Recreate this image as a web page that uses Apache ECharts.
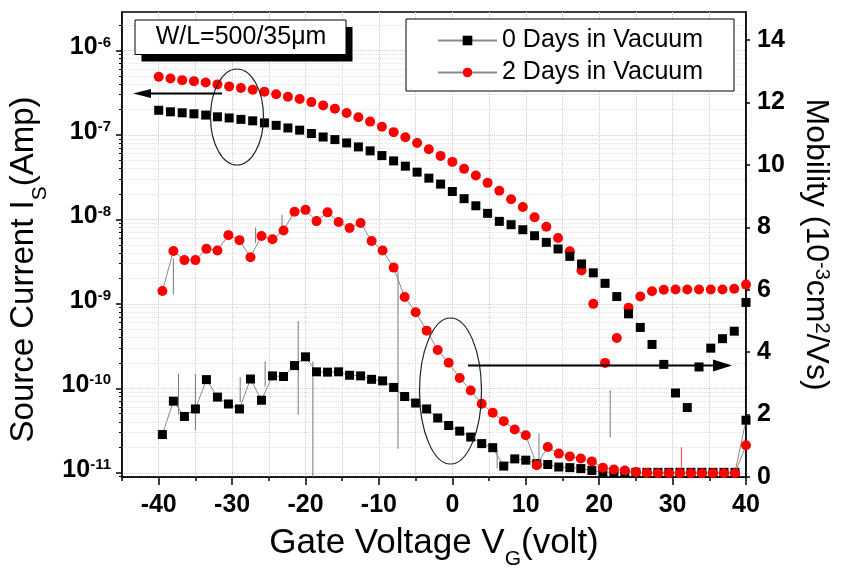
<!DOCTYPE html>
<html>
<head>
<meta charset="utf-8">
<script src="https://cdn.jsdelivr.net/npm/echarts@6/dist/echarts.min.js"></script>
<style>
html,body{margin:0;padding:0;background:#fff;}
#chart{width:844px;height:569px;}
</style>
</head>
<body>
<div id="chart"></div>
<script>
// ---- data ----
const gateV = [-40, -38.4, -36.8, -35.2, -33.6, -32, -30.4, -28.8, -27.2, -25.6, -24, -22.4, -20.8, -19.2, -17.6, -16, -14.4, -12.8, -11.2, -9.6, -8, -6.4, -4.8, -3.2, -1.6, 0, 1.6, 3.2, 4.8, 6.4, 8, 9.6, 11.2, 12.8, 14.4, 16, 17.6, 19.2, 20.8, 22.4, 24, 25.6, 27.2, 28.8, 30.4, 32, 33.6, 35.2, 36.8, 38.4, 40];
const current0Days = [1.96e-7, 1.88e-7, 1.83e-7, 1.78e-7, 1.72e-7, 1.64e-7, 1.59e-7, 1.53e-7, 1.47e-7, 1.39e-7, 1.30e-7, 1.21e-7, 1.14e-7, 1.04e-7, 9.46e-8, 8.81e-8, 8.05e-8, 7.22e-8, 6.48e-8, 5.70e-8, 4.93e-8, 4.27e-8, 3.63e-8, 3.08e-8, 2.62e-8, 2.14e-8, 1.76e-8, 1.45e-8, 1.18e-8, 9.48e-9, 8.66e-9, 7.55e-9, 6.41e-9, 5.35e-9, 4.47e-9, 3.65e-9, 2.97e-9, 2.33e-9, 1.75e-9, 1.22e-9, 7.62e-10, 5.26e-10, 3.31e-10, 1.92e-10, 8.81e-11, 5.92e-11, 1.79e-10, 2.99e-10, 3.87e-10, 4.75e-10, 1.04e-9];
const current2Days = [4.88e-7, 4.67e-7, 4.46e-7, 4.34e-7, 4.19e-7, 3.97e-7, 3.76e-7, 3.59e-7, 3.43e-7, 3.25e-7, 3.03e-7, 2.83e-7, 2.66e-7, 2.45e-7, 2.24e-7, 2.05e-7, 1.82e-7, 1.62e-7, 1.44e-7, 1.25e-7, 1.08e-7, 9.40e-8, 8.05e-8, 6.78e-8, 5.65e-8, 4.80e-8, 3.97e-8, 3.31e-8, 2.71e-8, 2.18e-8, 1.73e-8, 1.40e-8, 1.06e-8, 8.20e-9, 6.03e-9, 4.19e-9, 2.48e-9, 1.00e-9, 2.00e-10, 3.94e-10, 9.0e-10, 1.22e-9, 1.41e-9, 1.47e-9, 1.48e-9, 1.48e-9, 1.48e-9, 1.48e-9, 1.48e-9, 1.51e-9, 1.69e-9];

const gateVMob = [-39.5, -38, -36.5, -35, -33.5, -32, -30.5, -29, -27.5, -26, -24.5, -23, -21.5, -20, -18.5, -17, -15.5, -14, -12.5, -11, -9.5, -8, -6.5, -5, -3.5, -2, -0.5, 1, 2.5, 4, 5.5, 7, 8.5, 10, 11.5, 13, 14.5, 16, 17.5, 19, 20.5, 22, 23.5, 25, 26.5, 28, 29.5, 31, 32.5, 34, 35.5, 37, 38.5, 40];
const mobility0Days = [1.36, 2.43, 1.94, 2.18, 3.12, 2.56, 2.34, 2.18, 3.14, 2.46, 3.24, 3.22, 3.57, 3.85, 3.37, 3.36, 3.37, 3.26, 3.24, 3.13, 3.08, 2.87, 2.58, 2.37, 2.18, 1.89, 1.65, 1.47, 1.28, 1.07, 0.94, 0.35, 0.58, 0.54, 0.43, 0.40, 0.32, 0.30, 0.27, 0.21, 0.16, 0.15, 0.15, 0.15, 0.15, 0.15, 0.15, 0.15, 0.15, 0.15, 0.15, 0.15, 0.15, 1.82];
const mobility2Days = [5.96, 7.24, 6.95, 6.95, 7.31, 7.26, 7.75, 7.59, 7.04, 7.72, 7.62, 7.90, 8.50, 8.56, 8.20, 8.48, 8.17, 7.98, 8.14, 7.56, 7.26, 6.71, 5.77, 5.28, 4.69, 4.07, 3.66, 3.17, 2.77, 2.35, 2.06, 1.79, 1.52, 1.34, 0.38, 0.96, 0.75, 0.66, 0.59, 0.50, 0.30, 0.24, 0.21, 0.16, 0.13, 0.12, 0.12, 0.12, 0.12, 0.12, 0.12, 0.12, 0.12, 1.02];

// raw-data noise spikes visible in the mobility traces: [gate V, top, bottom]
const graySpikes = [[-38.0, 7.0, 5.85], [-37.3, 3.3, 2.0], [-35.0, 3.3, 1.5], [-28.9, 3.2, 2.4], [-26.8, 8.0, 7.5], [-25.5, 3.7, 2.9], [-23.2, 8.4, 8.0], [-21.0, 5.0, 2.0], [-19.0, 3.7, 0], [-7.4, 6.6, 0.9], [6.1, 0.86, 0.28], [11.8, 1.4, 0.45], [21.5, 2.78, 1.27]];
const redSpikes = [[31.2, 0.95, 0.3]];

// ticks
const xMajorTicks = [-40, -30, -20, -10, 0, 10, 20, 30, 40];
const currentDecades = [-11, -10, -9, -8, -7, -6];          // exponents of 10
const minorMultipliers = [2, 3, 4, 5, 6, 7, 8, 9];
const mobilityTicks = [0, 2, 4, 6, 8, 10, 12, 14];

const legendNames = ['0 Days in Vacuum', '2 Days in Vacuum'];

// ---- build ----
const FONT = '"Liberation Sans", Arial, sans-serif';
const logMin = -11.05, logMax = -5.544;
const minorExps = [];
[-12].concat(currentDecades).forEach(e => minorMultipliers.forEach(m => {
  const v = e + Math.log10(m);
  if (v > logMin && v < logMax) minorExps.push(v);
}));

const curPairs = (xs, ys) => xs.map((x, i) => [x, Math.log10(ys[i])]);
const pairs = (xs, ys) => xs.map((x, i) => [x, ys[i]]);

const spikeSeries = [];
graySpikes.forEach(s => spikeSeries.push({
  type: 'line', xAxisIndex: 0, yAxisIndex: 2, silent: true, symbol: 'none', z: 1,
  lineStyle: {color: '#777', width: 1}, data: [[s[0], s[1]], [s[0], s[2]]]
}));
redSpikes.forEach(s => spikeSeries.push({
  type: 'line', xAxisIndex: 0, yAxisIndex: 2, silent: true, symbol: 'none', z: 1,
  lineStyle: {color: '#ff4040', width: 1}, data: [[s[0], s[1]], [s[0], s[2]]]
}));

const chart = echarts.init(document.getElementById('chart'), null, {renderer: 'canvas'});
const option = {
  animation: false,
  backgroundColor: '#fff',
  textStyle: {fontFamily: FONT},
  grid: {left: 122, right: 98, top: 12, bottom: 92, containLabel: false, outerBoundsMode: 'none',
         show: true, borderColor: '#000', borderWidth: 1.5, backgroundColor: 'transparent'},
  legend: {
    data: legendNames,
    orient: 'vertical', left: 406, top: 19,
    padding: [9, 31, 6, 31], itemGap: 7,
    itemWidth: 59, itemHeight: 12,
    borderColor: '#000', borderWidth: 1, backgroundColor: '#fff',
    textStyle: {fontSize: 25, color: '#000', fontFamily: FONT},
    selectedMode: false, z: 10
  },
  xAxis: [{
    type: 'value', min: -45, max: 40, interval: 5, position: 'bottom',
    axisLine: {show: true, onZero: false, lineStyle: {color: '#000', width: 1.5}},
    axisTick: {show: true, length: 4, lineStyle: {color: '#000', width: 1.5}},
    axisLabel: {customValues: xMajorTicks, fontSize: 25, fontWeight: 'bold', color: '#000', margin: 16, fontFamily: FONT},
    splitLine: {show: true, lineStyle: {color: '#cfcfcf', type: 'dotted', width: 1}},
    name: '{m|Gate Voltage V}{s|G}{m|(volt)}', nameLocation: 'middle', nameGap: 49,
    nameTextStyle: {rich: {
      m: {fontSize: 35, fontFamily: FONT, color: '#000', lineHeight: 38, verticalAlign: 'top'},
      s: {fontSize: 21, fontFamily: FONT, color: '#000', lineHeight: 21, verticalAlign: 'top', padding: [23, 0, 0, 0]}
    }}
  }, {
    type: 'value', min: -45, max: 40, position: 'bottom',
    axisLine: {show: false, onZero: false}, axisLabel: {show: false}, splitLine: {show: false},
    axisTick: {show: true, customValues: xMajorTicks, length: 8, lineStyle: {color: '#000', width: 1.5}}
  }],
  yAxis: [{
    type: 'value', min: logMin, max: logMax, position: 'left',
    axisLine: {show: true, onZero: false, lineStyle: {color: '#000', width: 1.5}},
    axisTick: {show: true, customValues: currentDecades, length: 6, lineStyle: {color: '#000', width: 1.5}},
    axisLabel: {
      customValues: currentDecades, margin: 11, padding: [0, 0, 6, 0],
      formatter: v => '{b|10}{s|' + Math.round(v) + '}',
      rich: {
        b: {fontSize: 25, fontWeight: 'bold', color: '#000', fontFamily: FONT, lineHeight: 25, verticalAlign: 'bottom', padding: [8, 0, 0, 0]},
        s: {fontSize: 15, fontWeight: 'bold', color: '#000', fontFamily: FONT, lineHeight: 15, verticalAlign: 'top'}
      }
    },
    splitLine: {show: true, lineStyle: {color: '#cfcfcf', type: 'dotted', width: 1}},
    name: '{m|Source Current I}{s|S}{m|(Amp)}', nameLocation: 'middle', nameRotate: 90, nameGap: 72,
    nameTextStyle: {padding: [0, 50, 0, 0], rich: {
      m: {fontSize: 33, fontFamily: FONT, color: '#000', lineHeight: 36, verticalAlign: 'top'},
      s: {fontSize: 21, fontFamily: FONT, color: '#000', lineHeight: 21, verticalAlign: 'top', padding: [22, 0, 0, 0]}
    }}
  }, {
    type: 'value', min: logMin, max: logMax, position: 'left',
    axisLine: {show: false, onZero: false}, axisLabel: {show: false},
    axisTick: {show: true, customValues: minorExps, length: 3, lineStyle: {color: '#000', width: 1}},
    splitLine: {show: true, lineStyle: {color: '#e2e2e2', type: 'dotted', width: 1}}
  }, {
    type: 'value', min: 0, max: 14.9, position: 'right',
    axisLine: {show: true, onZero: false, lineStyle: {color: '#000', width: 1.5}},
    axisTick: {show: true, customValues: mobilityTicks, length: 4, lineStyle: {color: '#000', width: 1.5}},
    axisLabel: {customValues: mobilityTicks, fontSize: 25, fontWeight: 'bold', color: '#000', margin: 11, fontFamily: FONT},
    splitLine: {show: false},
    name: '{m|Mobility (10}{p|-3}{m|cm}{p|2}{m|/Vs)}', nameLocation: 'middle', nameRotate: -90, nameGap: 54,
    nameTextStyle: {rich: {
      m: {fontSize: 32, fontFamily: FONT, color: '#000', lineHeight: 32, verticalAlign: 'bottom', padding: [8, 0, 0, 0]},
      p: {fontSize: 20, fontFamily: FONT, color: '#000', lineHeight: 20, verticalAlign: 'top'}
    }}
  }],
  series: spikeSeries.concat([{
    name: legendNames[0], type: 'line', xAxisIndex: 0, yAxisIndex: 2, z: 2,
    symbol: 'rect', symbolSize: 9, showSymbol: true,
    itemStyle: {color: '#000', opacity: 1}, lineStyle: {color: '#8a8a8a', width: 1},
    data: pairs(gateVMob, mobility0Days)
  }, {
    name: legendNames[1], type: 'line', xAxisIndex: 0, yAxisIndex: 2, z: 3,
    symbol: 'circle', symbolSize: 10, showSymbol: true,
    itemStyle: {color: '#ff0000', opacity: 1}, lineStyle: {color: '#8a8a8a', width: 1},
    data: pairs(gateVMob, mobility2Days)
  }, {
    name: legendNames[1], type: 'scatter', xAxisIndex: 0, yAxisIndex: 0, z: 4,
    symbol: 'circle', symbolSize: 10, itemStyle: {color: '#ff0000', opacity: 1},
    data: curPairs(gateV, current2Days)
  }, {
    name: legendNames[0], type: 'scatter', xAxisIndex: 0, yAxisIndex: 0, z: 5,
    symbol: 'rect', symbolSize: 9, itemStyle: {color: '#000', opacity: 1},
    data: curPairs(gateV, current0Days)
  }]),
  graphic: [
    {type: 'rect', z: 20, shape: {x: 141.5, y: 27, width: 211, height: 34.5}, style: {fill: '#000'}},
    {type: 'rect', z: 21, shape: {x: 135, y: 20, width: 211, height: 34.5}, style: {fill: '#fff', stroke: '#000', lineWidth: 1}},
    {type: 'text', z: 22, x: 241, y: 37.5, style: {text: 'W/L=500/35μm', font: '25px "Liberation Sans", Arial, sans-serif', fill: '#000', textAlign: 'center', textVerticalAlign: 'middle'}},
    {type: 'ellipse', z: 20, shape: {cx: 237, cy: 117, rx: 26.5, ry: 48}, style: {fill: 'none', stroke: '#222', lineWidth: 1.2}},
    {type: 'line', z: 20, shape: {x1: 222, y1: 93.5, x2: 148, y2: 93.5}, style: {stroke: '#000', lineWidth: 2.2}},
    {type: 'polygon', z: 20, shape: {points: [[133, 93.5], [151, 89], [151, 98]]}, style: {fill: '#000'}},
    {type: 'ellipse', z: 20, shape: {cx: 450.5, cy: 391, rx: 31, ry: 73}, style: {fill: 'none', stroke: '#222', lineWidth: 1.2}},
    {type: 'line', z: 20, shape: {x1: 468, y1: 365.5, x2: 716, y2: 365.5}, style: {stroke: '#000', lineWidth: 2.2}},
    {type: 'polygon', z: 20, shape: {points: [[732, 365.5], [713, 359.5], [713, 371.5]]}, style: {fill: '#000'}}
  ]
};
chart.setOption(option);
</script>
</body>
</html>
